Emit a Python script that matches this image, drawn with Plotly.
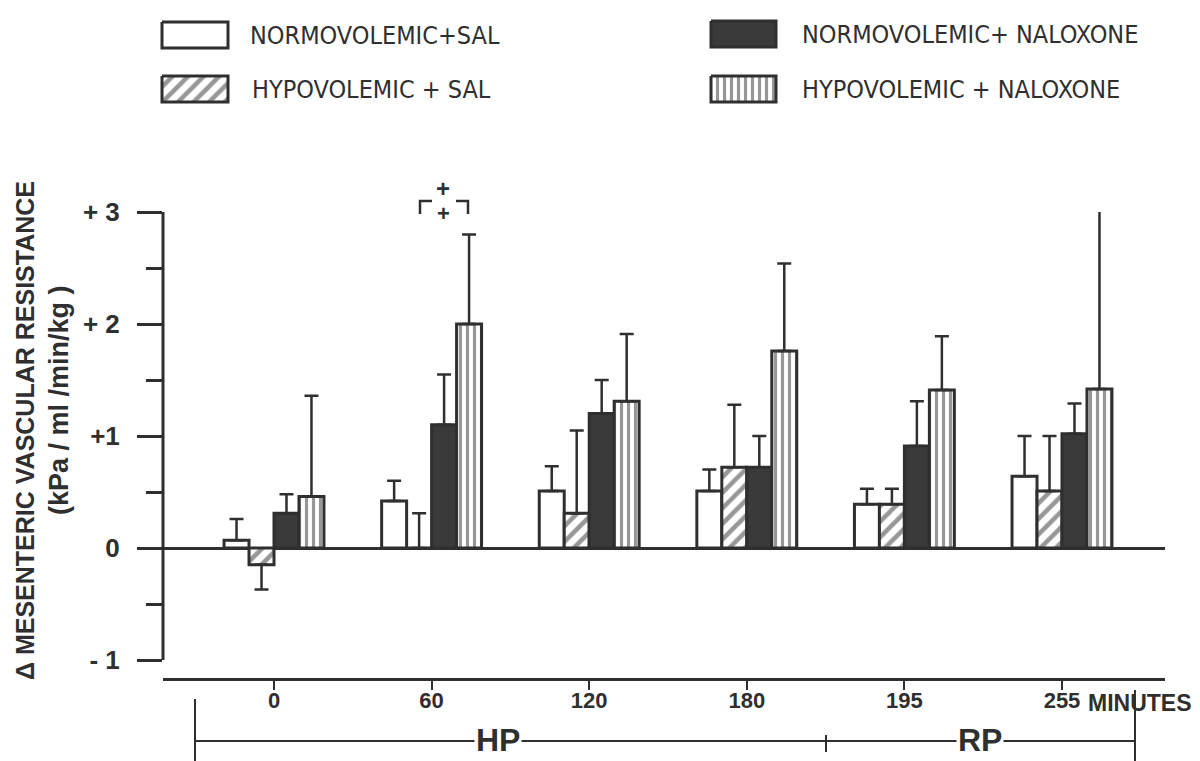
import plotly.graph_objects as go

W, H = 1200, 761
INK = "#2f2f2f"
FONT_COND = "DejaVu Sans Condensed, Liberation Sans Narrow, Arial Narrow, DejaVu Sans, sans-serif"
FONT_SANS = "Liberation Sans, Arial, Helvetica, sans-serif"

# Sampling times (minutes) and group means / SEM
times = ["0", "60", "120", "180", "195", "255"]
series_names = ["NORMOVOLEMIC+SAL", "HYPOVOLEMIC + SAL",
                "NORMOVOLEMIC+ NALOXONE", "HYPOVOLEMIC + NALOXONE"]
normo_sal = [0.07, 0.42, 0.51, 0.51, 0.39, 0.64]
normo_sal_err = [0.19, 0.18, 0.22, 0.19, 0.14, 0.36]
hypo_sal = [-0.15, 0.0, 0.31, 0.72, 0.39, 0.51]
hypo_sal_err = [0.22, 0.31, 0.74, 0.56, 0.14, 0.49]
normo_nal = [0.31, 1.10, 1.20, 0.72, 0.91, 1.02]
normo_nal_err = [0.17, 0.45, 0.30, 0.28, 0.40, 0.27]
hypo_nal = [0.46, 2.00, 1.31, 1.76, 1.41, 1.42]
hypo_nal_err = [0.90, 0.80, 0.60, 0.78, 0.48, 1.60]

y_tickvals = [-1, 0, 1, 2, 3]
y_ticktext = ["- 1", "0", "+1", "+ 2", "+ 3"]

styles = [
    dict(color="white", pattern=None),
    dict(color="white", pattern=dict(shape="/", fgcolor=INK, bgcolor="white", size=11, solidity=0.42)),
    dict(color="#3a3a3a", pattern=None),
    dict(color="white", pattern=dict(shape="|", fgcolor=INK, bgcolor="white", size=7, solidity=0.45)),
]
values = [normo_sal, hypo_sal, normo_nal, hypo_nal]
errors = [normo_sal_err, hypo_sal_err, normo_nal_err, hypo_nal_err]

# Plot-area placement in pixels
X_LEFT, X_RIGHT = 163, 1165
Y_TOP, Y_BOTTOM = 212, 678          # y=+3 at top, time axis line at bottom
PX_PER_UNIT = 112.0
C0, STEP = 274, 157.6               # first group centre and group spacing


def px(x):
    return x / W


def py(y):
    return 1 - y / H


def label(text, x, y, size, family=FONT_SANS, weight="normal", angle=0, xanchor="center", bg=None):
    d = dict(x=px(x), y=py(y), xref="paper", yref="paper", text=text, showarrow=False,
             xanchor=xanchor, yanchor="middle", textangle=angle,
             font=dict(family=family, size=size, color=INK, weight=weight))
    if bg:
        d["bgcolor"] = bg
    return d


fig = go.Figure()
xs = list(range(len(times)))
for name, vals, errs, st in zip(series_names, values, errors, styles):
    plus = [e if v >= 0 else 0 for v, e in zip(vals, errs)]
    minus = [0 if v >= 0 else e for v, e in zip(vals, errs)]
    marker = dict(color=st["color"], line=dict(color=INK, width=3))
    if st["pattern"]:
        marker["pattern"] = st["pattern"]
    fig.add_trace(go.Bar(
        x=xs, y=vals, name=name, marker=marker, showlegend=False,
        error_y=dict(type="data", symmetric=False, array=plus, arrayminus=minus,
                     color=INK, thickness=2.5, width=7),
    ))

# Legend keys, drawn on a pixel-space overlay axis
legend_boxes = [(162, 22, 228, 48), (162, 76, 228, 102), (711, 21, 776, 47), (711, 76, 776, 102)]
legend_text_pos = [(248, 36), (250, 89), (800, 35), (800, 89)]
for (x0, y0, x1, y1), st in zip(legend_boxes, styles):
    tr = go.Scatter(x=[x0, x1, x1, x0, x0], y=[y0, y0, y1, y1, y0], mode="lines",
                    fill="toself", fillcolor=st["color"], line=dict(color=INK, width=3),
                    xaxis="x2", yaxis="y2", showlegend=False, hoverinfo="skip")
    if st["pattern"]:
        tr.fillpattern = st["pattern"]
    fig.add_trace(tr)

annotations = []
for name, (tx, ty) in zip(series_names, legend_text_pos):
    annotations.append(label(name, tx, ty, 25, family=FONT_COND, xanchor="left"))

# Y-axis title (two lines)
annotations.append(label("Δ MESENTERIC VASCULAR RESISTANCE", 25, 431, 25, weight="bold", angle=-90))
annotations.append(label("(kPa / ml /min/kg )", 59, 400, 27, weight="bold", angle=-90))

# Significance marks above the 60-min group
annotations.append(label("+", 443, 188, 24, weight="bold"))
annotations.append(label("+", 443, 213, 22, weight="bold"))

annotations.append(label("MINUTES", 1140, 703, 23, weight="bold"))
annotations.append(label("HP", 498, 740, 32, weight="bold", bg="white"))
annotations.append(label("RP", 980, 740, 32, weight="bold", bg="white"))

shapes = []
line = dict(color=INK, width=2.5)
# bracket over the 60-min group
shapes.append(dict(type="path", xref="paper", yref="paper", line=line,
                   path=f"M {px(420)},{py(214)} L {px(420)},{py(201)} L {px(432)},{py(201)}"))
shapes.append(dict(type="path", xref="paper", yref="paper", line=line,
                   path=f"M {px(456)},{py(201)} L {px(468)},{py(201)} L {px(468)},{py(214)}"))
# HP / RP phase bar
thin = dict(color=INK, width=2)
shapes.append(dict(type="line", xref="paper", yref="paper", x0=px(195), x1=px(1135),
                   y0=py(741), y1=py(741), line=thin))
shapes.append(dict(type="line", xref="paper", yref="paper", x0=px(195), x1=px(195),
                   y0=py(699), y1=py(761), line=thin))
shapes.append(dict(type="line", xref="paper", yref="paper", x0=px(1135), x1=px(1135),
                   y0=py(690), y1=py(761), line=thin))
shapes.append(dict(type="line", xref="paper", yref="paper", x0=px(826), x1=px(826),
                   y0=py(735), y1=py(752), line=thin))
# value axis spine, from -1 to +3 only
shapes.append(dict(type="line", xref="x domain", yref="y", x0=0, x1=0, y0=-1, y1=3,
                   line=dict(color=INK, width=3)))

y_top_val = 3.0
y_bot_val = 3.0 - (Y_BOTTOM - Y_TOP) / PX_PER_UNIT

fig.update_layout(
    width=W, height=H, margin=dict(l=0, r=0, t=0, b=0, autoexpand=False),
    paper_bgcolor="white", plot_bgcolor="rgba(0,0,0,0)",
    barmode="group", bargap=0.366, bargroupgap=0,
    xaxis=dict(domain=[px(X_LEFT), px(X_RIGHT)],
               range=[(X_LEFT - C0) / STEP, (X_RIGHT - C0) / STEP],
               tickvals=xs, ticktext=times, showline=True, linecolor=INK, linewidth=3,
               ticks="outside", ticklen=9, tickwidth=2, tickcolor=INK,
               ticklabelstandoff=-8,
               showgrid=False, zeroline=False, automargin=False,
               tickfont=dict(family=FONT_SANS, size=22, color=INK, weight="bold")),
    yaxis=dict(domain=[py(Y_BOTTOM), py(Y_TOP)], range=[y_bot_val, y_top_val],
               tickvals=y_tickvals, ticktext=y_ticktext,
               showline=False,
               ticks="outside", ticklen=25, tickwidth=3, tickcolor=INK,
               ticklabelstandoff=12,
               minor=dict(tickvals=[-0.5, 0.5, 1.5, 2.5], ticks="outside", ticklen=16,
                          tickwidth=2.5, tickcolor=INK),
               showgrid=False, zeroline=True, zerolinecolor=INK, zerolinewidth=3,
               automargin=False,
               tickfont=dict(family=FONT_SANS, size=26, color=INK, weight="bold")),
    xaxis2=dict(domain=[0, 1], range=[0, W], visible=False, anchor="y2"),
    yaxis2=dict(domain=[0, 1], range=[H, 0], visible=False, anchor="x2"),
    annotations=annotations, shapes=shapes,
)

fig.write_html("out.html")
